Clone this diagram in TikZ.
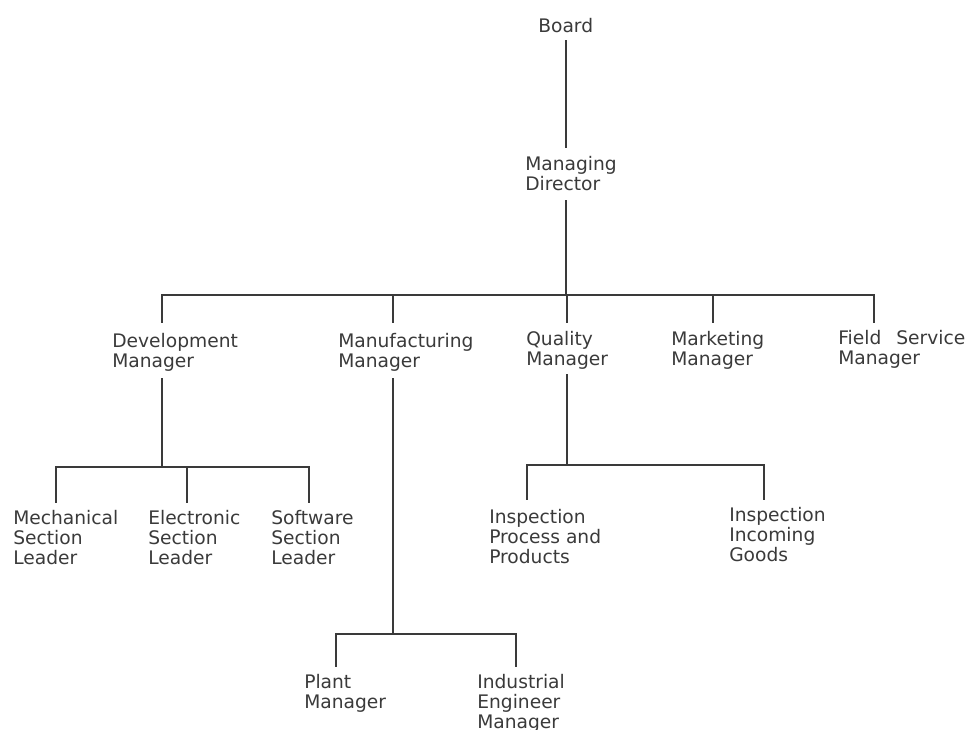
\documentclass[tikz,border=0pt]{standalone}
\usepackage{fontspec}
\setmainfont{DejaVu Sans}
\definecolor{ink}{HTML}{3A3A3A}
\tikzset{
  unit/.style={anchor=north west, inner sep=0pt, align=left, text=ink,
    font=\fontsize{14}{15}\selectfont},
  link/.style={draw=ink, line width=1.4pt}
}
\begin{document}
\begin{tikzpicture}[x=0.75pt, y=-0.75pt]
        \useasboundingbox (0,0) rectangle (968,729);
        % people
        \node[unit] (board) at (538,18) {Board};
        \node[unit] (md) at (525,156) {Managing\\Director};
        \node[unit] (dev) at (112,333) {Development\\Manager};
        \node[unit] (man) at (338,333) {Manufacturing\\Manager};
        \node[unit] (qual) at (526,331) {Quality\\Manager};
        \node[unit] (mkt) at (671,331) {Marketing\\Manager};
        \node[unit] (fld) at (838,330) {Field\hspace{0.8em}Service\\Manager};
        \node[unit] (mech) at (13,510) {Mechanical\\Section\\Leader};
        \node[unit] (elec) at (148,510) {Electronic\\Section\\Leader};
        \node[unit] (soft) at (271,510) {Software\\Section\\Leader};
        \node[unit] (insp) at (489,509) {Inspection\\Process and\\Products};
        \node[unit] (inc) at (729,507) {Inspection\\Incoming\\Goods};
        \node[unit] (plant) at (304,674) {Plant\\Manager};
        \node[unit] (ind) at (477,674) {Industrial\\Engineer\\Manager};
        % line ends
        \coordinate (board-out) at (566,40);
        \coordinate (md-in) at (566,148);
        \coordinate (md-out) at (566,200);
        \coordinate (j1) at (566,295);
        \coordinate (dev-in) at (162,323);
        \coordinate (man-in) at (393,323);
        \coordinate (qual-in) at (567,323);
        \coordinate (mkt-in) at (713,323);
        \coordinate (fld-in) at (874,323);
        \coordinate (dev-out) at (162,378);
        \coordinate (j2) at (162,467);
        \coordinate (mech-in) at (56,503);
        \coordinate (elec-in) at (187,503);
        \coordinate (soft-in) at (309,503);
        \coordinate (man-out) at (393,378);
        \coordinate (j3) at (393,634);
        \coordinate (plant-in) at (336,667);
        \coordinate (ind-in) at (516,667);
        \coordinate (qual-out) at (567,374);
        \coordinate (j4) at (567,465);
        \coordinate (insp-in) at (527,500);
        \coordinate (inc-in) at (764,500);
        % connectors
        \draw[link] (board-out) -- (md-in);
        \draw[link] (md-out) -- (j1);
        \foreach \n in {dev,man,qual,mkt,fld}
            \draw[link] (j1) -| (\n-in);
        \draw[link] (dev-out) -- (j2);
        \foreach \n in {mech,elec,soft}
            \draw[link] (j2) -| (\n-in);
        \draw[link] (man-out) -- (j3);
        \foreach \n in {plant,ind}
            \draw[link] (j3) -| (\n-in);
        \draw[link] (qual-out) -- (j4);
        \foreach \n in {insp,inc}
            \draw[link] (j4) -| (\n-in);
    \end{tikzpicture}
\end{document}
